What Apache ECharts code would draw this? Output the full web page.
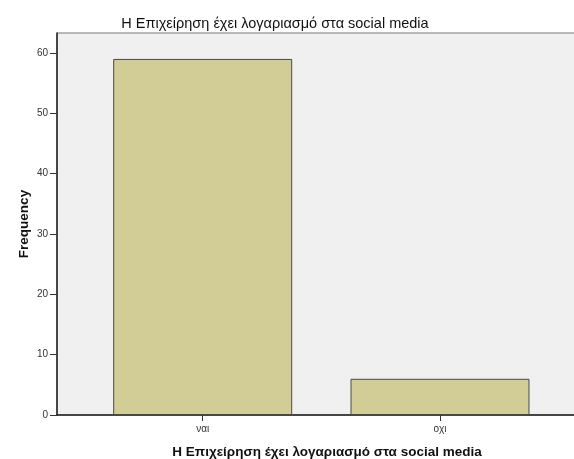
<!DOCTYPE html>
<html>
<head>
<meta charset="utf-8">
<style>
  html, body { margin: 0; padding: 0; background: #ffffff; }
  #chart { width: 574px; height: 459px; }
</style>
<script src="https://cdn.jsdelivr.net/npm/echarts@6/dist/echarts.min.js"></script>
</head>
<body>
<div id="chart"></div>
<script>
// Answers to "does the business have a social media account"
const categories = ['ναι', 'οχι'];
const frequencies = [59, 6];
const yTicks = [0, 10, 20, 30, 40, 50, 60];

const titleText = 'Η Επιχείρηση έχει λογαριασμό στα social media';
const FONT = 'Liberation Sans, Arial, sans-serif';

// bars sit on a numeric x scale at each category's index
const barData = categories.map((c, i) => [i, frequencies[i]]);
const catPositions = categories.map((c, i) => i);

const chart = echarts.init(document.getElementById('chart'), null, { renderer: 'canvas' });
chart.setOption({
  animation: false,
  backgroundColor: '#ffffff',
  title: [
    {
      text: titleText,
      left: 270, top: 11,
      textAlign: 'center',
      textStyle: { fontFamily: FONT, fontSize: 14.5, fontWeight: 'normal', color: '#111' }
    },
    {
      text: titleText,
      left: 322, top: 440,
      textAlign: 'center',
      textStyle: { fontFamily: FONT, fontSize: 13.5, fontWeight: 'bold', color: '#111' }
    }
  ],
  grid: {
    left: 57, top: 33, right: -6, bottom: 44,
    outerBoundsMode: 'none',
    containLabel: false,
    show: true,
    backgroundColor: '#f0f0f0',
    borderColor: '#777',
    borderWidth: 1
  },
  xAxis: {
    type: 'value',
    min: -0.614,
    max: 1.59,
    splitLine: { show: false },
    axisLine: { show: true, onZero: false, lineStyle: { color: '#222', width: 1.5 } },
    axisTick: { show: true, customValues: catPositions, length: 6, lineStyle: { color: '#333' } },
    axisLabel: {
      customValues: catPositions,
      formatter: v => categories[Math.round(v)],
      fontFamily: FONT, fontSize: 10, color: '#333', margin: 9
    }
  },
  yAxis: {
    type: 'value',
    min: 0,
    max: 63.3,
    interval: 10,
    name: 'Frequency',
    nameLocation: 'middle',
    nameGap: 26,
    nameMoveOverlap: false,
    nameRotate: 90,
    nameTextStyle: { fontFamily: FONT, fontSize: 13.5, fontWeight: 'bold', color: '#111' },
    splitLine: { show: false },
    axisLine: { show: true, onZero: false, lineStyle: { color: '#222', width: 1.5 } },
    axisTick: { show: true, customValues: yTicks, length: 7, lineStyle: { color: '#333' } },
    axisLabel: {
      customValues: yTicks,
      fontFamily: FONT, fontSize: 10, color: '#333', margin: 9
    }
  },
  series: [{
    type: 'bar',
    data: barData,
    barWidth: 179,
    itemStyle: { color: '#d2cd96', borderColor: '#4a4a44', borderWidth: 1 }
  }]
});
</script>
</body>
</html>
